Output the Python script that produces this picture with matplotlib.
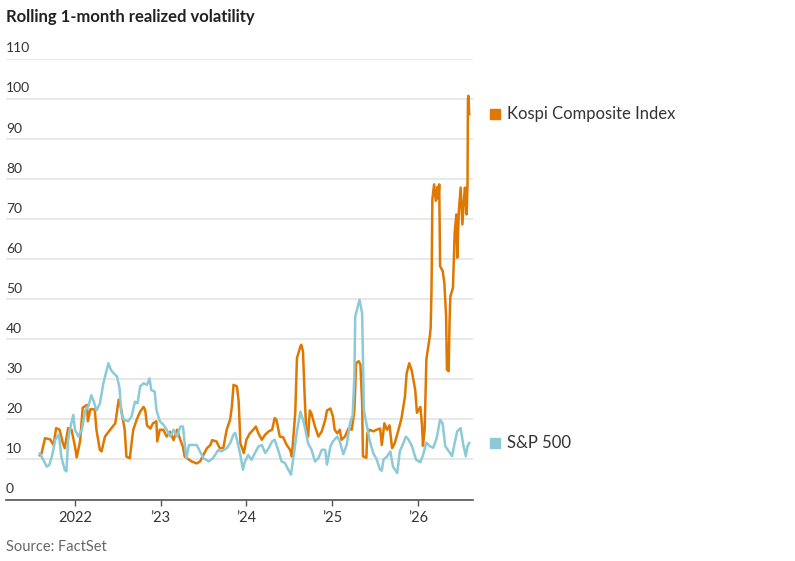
import matplotlib
matplotlib.use("Agg")
import matplotlib.pyplot as plt
import matplotlib.transforms as mtransforms

plt.rcParams['font.family'] = ['Lato', 'DejaVu Sans']

# decimal-year positions and values
kospi_t = [2021.59, 2021.61, 2021.65, 2021.71, 2021.75, 2021.78, 2021.82, 2021.86, 2021.88,
           2021.92, 2021.96, 2022.00, 2022.02, 2022.06, 2022.09, 2022.14, 2022.15, 2022.18,
           2022.23, 2022.25, 2022.29, 2022.31, 2022.35, 2022.41, 2022.47, 2022.51, 2022.53,
           2022.56, 2022.58, 2022.60, 2022.64, 2022.66, 2022.68, 2022.72, 2022.76, 2022.80,
           2022.82, 2022.84, 2022.88, 2022.91, 2022.95, 2022.96, 2022.99, 2023.03, 2023.07,
           2023.11, 2023.15, 2023.19, 2023.23, 2023.26, 2023.28, 2023.36, 2023.42, 2023.46,
           2023.50, 2023.54, 2023.58, 2023.60, 2023.65, 2023.69, 2023.73, 2023.77, 2023.81,
           2023.83, 2023.85, 2023.89, 2023.91, 2023.93, 2023.97, 2024.00, 2024.04, 2024.08,
           2024.11, 2024.14, 2024.18, 2024.22, 2024.26, 2024.30, 2024.33, 2024.35, 2024.39,
           2024.43, 2024.47, 2024.51, 2024.53, 2024.57, 2024.59, 2024.63, 2024.64, 2024.66,
           2024.68, 2024.70, 2024.72, 2024.74, 2024.76, 2024.80, 2024.84, 2024.88, 2024.92,
           2024.94, 2024.98, 2025.01, 2025.03, 2025.06, 2025.09, 2025.11, 2025.15, 2025.19,
           2025.23, 2025.26, 2025.28, 2025.31, 2025.33, 2025.35, 2025.36, 2025.40, 2025.41,
           2025.44, 2025.48, 2025.52, 2025.56, 2025.58, 2025.61, 2025.64, 2025.67, 2025.70,
           2025.73, 2025.77, 2025.81, 2025.85, 2025.87, 2025.90, 2025.93, 2025.97, 2025.99,
           2026.03, 2026.05, 2026.06, 2026.08, 2026.10, 2026.12, 2026.14, 2026.15, 2026.16,
           2026.17, 2026.19, 2026.21, 2026.23, 2026.24, 2026.25, 2026.26, 2026.29, 2026.31,
           2026.33, 2026.34, 2026.36, 2026.37, 2026.38, 2026.41, 2026.43, 2026.45, 2026.46,
           2026.48, 2026.50, 2026.52, 2026.54, 2026.55, 2026.57, 2026.58, 2026.585, 2026.59,
           2026.60]
kospi = [11.0, 11.5, 15.3, 15.0, 13.6, 17.8, 17.4, 14.0, 12.8,
         17.8, 17.4, 13.2, 10.5, 14.6, 22.9, 23.6, 19.5, 22.5,
         22.5, 17.4, 12.4, 12.0, 15.7, 17.4, 19.0, 24.9, 23.6,
         19.9, 17.4, 10.7, 10.3, 14.0, 17.4, 19.9, 21.9, 23.1,
         22.2, 18.5, 17.7, 19.0, 19.5, 14.5, 17.4, 17.4, 15.7,
         16.9, 14.8, 17.4, 14.8, 13.1, 10.7, 9.5, 9.0, 9.5,
         11.2, 12.8, 13.6, 14.8, 14.5, 12.8, 12.8, 17.4, 19.9,
         23.1, 28.6, 28.2, 24.4, 14.0, 11.6, 14.9, 16.5, 17.4,
         18.2, 16.5, 14.9, 16.2, 17.0, 17.4, 20.3, 19.9, 15.7,
         15.5, 13.6, 12.4, 10.7, 21.6, 35.3, 38.2, 38.6, 37.0,
         25.7, 16.5, 15.7, 22.2, 21.4, 18.2, 15.7, 17.0, 19.9,
         22.2, 22.7, 20.7, 17.4, 16.5, 17.4, 14.9, 15.7, 17.7,
         17.4, 22.2, 34.0, 34.5, 33.7, 24.4, 10.8, 10.4, 16.5,
         17.4, 17.0, 17.4, 17.7, 13.6, 19.0, 17.4, 18.5, 12.8,
         14.0, 17.0, 20.3, 25.7, 31.5, 34.0, 32.1, 27.3, 21.6,
         23.1, 18.2, 13.4, 17.4, 35.0, 37.8, 40.7, 42.8, 52.4,
         74.9, 78.6, 74.5, 78.0, 75.0, 78.6, 58.2, 57.0, 54.0,
         45.7, 32.4, 32.0, 44.0, 50.7, 52.8, 66.5, 71.1, 60.3,
         72.4, 77.8, 68.6, 75.3, 77.8, 71.1, 78.8, 99.9, 100.7,
         96.1]

sp500_t = [2021.59, 2021.63, 2021.67, 2021.70, 2021.73, 2021.77, 2021.81, 2021.82, 2021.84,
           2021.88, 2021.90, 2021.92, 2021.94, 2021.98, 2022.00, 2022.04, 2022.08, 2022.12,
           2022.16, 2022.19, 2022.22, 2022.25, 2022.29, 2022.33, 2022.36, 2022.39, 2022.42,
           2022.45, 2022.49, 2022.52, 2022.54, 2022.57, 2022.62, 2022.66, 2022.70, 2022.73,
           2022.76, 2022.80, 2022.84, 2022.87, 2022.89, 2022.93, 2022.95, 2022.99, 2023.03,
           2023.07, 2023.11, 2023.15, 2023.19, 2023.23, 2023.26, 2023.28, 2023.30, 2023.33,
           2023.38, 2023.42, 2023.46, 2023.50, 2023.56, 2023.61, 2023.67, 2023.71, 2023.77,
           2023.81, 2023.85, 2023.87, 2023.89, 2023.93, 2023.96, 2023.98, 2024.02, 2024.06,
           2024.10, 2024.14, 2024.18, 2024.22, 2024.26, 2024.30, 2024.33, 2024.37, 2024.41,
           2024.45, 2024.49, 2024.52, 2024.55, 2024.59, 2024.63, 2024.66, 2024.68, 2024.72,
           2024.76, 2024.80, 2024.84, 2024.88, 2024.92, 2024.94, 2024.98, 2025.01, 2025.06,
           2025.09, 2025.13, 2025.17, 2025.21, 2025.24, 2025.26, 2025.27, 2025.29, 2025.32,
           2025.35, 2025.36, 2025.37, 2025.40, 2025.44, 2025.48, 2025.52, 2025.56, 2025.58,
           2025.60, 2025.64, 2025.68, 2025.71, 2025.76, 2025.79, 2025.83, 2025.86, 2025.89,
           2025.93, 2025.98, 2026.03, 2026.06, 2026.10, 2026.14, 2026.18, 2026.22, 2026.26,
           2026.29, 2026.32, 2026.36, 2026.40, 2026.43, 2026.46, 2026.50, 2026.53, 2026.56,
           2026.58, 2026.60]
sp500 = [11.5, 9.9, 8.2, 8.6, 10.7, 14.9, 16.2, 14.9, 10.7,
         7.4, 7.0, 14.9, 17.4, 21.1, 17.4, 15.7, 17.4, 22.2,
         23.5, 26.0, 24.4, 22.2, 23.9, 28.9, 31.4, 34.0, 32.3,
         31.5, 30.7, 27.7, 21.6, 19.9, 19.5, 20.7, 24.4, 24.0,
         28.2, 29.0, 28.6, 30.2, 27.3, 26.9, 22.4, 19.5, 18.7,
         17.4, 15.7, 17.4, 15.7, 18.2, 18.2, 14.0, 10.3, 13.6,
         13.6, 13.6, 11.9, 10.3, 9.5, 10.3, 12.3, 12.0, 12.8,
         14.0, 16.2, 16.6, 14.9, 11.1, 7.4, 9.3, 11.1, 9.9,
         11.6, 13.2, 13.6, 11.6, 12.8, 14.5, 14.9, 12.4, 9.5,
         9.1, 7.4, 6.2, 10.7, 17.0, 21.9, 19.9, 18.2, 14.0,
         12.4, 9.5, 10.3, 12.4, 12.4, 8.7, 13.2, 14.5, 15.7,
         14.5, 11.3, 13.6, 19.2, 21.0, 30.7, 45.7, 47.3, 49.8,
         46.5, 35.7, 22.4, 19.0, 14.5, 11.6, 10.0, 7.4, 7.2,
         10.0, 10.7, 12.0, 8.2, 6.6, 12.0, 14.0, 15.7, 15.0,
         13.4, 9.9, 9.3, 11.0, 14.2, 13.3, 12.9, 15.3, 19.9,
         19.0, 13.3, 12.1, 10.8, 14.1, 17.0, 17.8, 13.7, 10.8,
         13.3, 14.1]

series_names = ['Kospi Composite Index', 'S&P 500']
year_ticks = [2022, 2023, 2024, 2025, 2026]
year_labels = ['2022', '\u201923', '\u201924', '\u201925', '\u201926']
y_ticks = list(range(0, 111, 10))

orange = '#df7800'
blue = '#8ccad7'
text_col = '#333333'

W, H = 795, 561
fig = plt.figure(figsize=(W / 100, H / 100), dpi=100)
ax = fig.add_axes([6 / W, 1 - 499.5 / H, 467 / W, 441 / H])

ax.plot(kospi_t, kospi, color=orange, lw=1.8, zorder=3)
ax.plot(sp500_t, sp500, color=blue, lw=1.8, zorder=4)

ax.set_xlim(2021.195, 2026.644)
ax.set_ylim(0, 110)

for s in ['top', 'right', 'left']:
    ax.spines[s].set_visible(False)
ax.spines['bottom'].set_color('#555555')
ax.spines['bottom'].set_linewidth(1.2)
ax.spines['bottom'].set_zorder(5)

ax.set_yticks(y_ticks)
ax.set_yticklabels([])
ax.tick_params(axis='y', length=0)
ax.yaxis.grid(True, color='#e4e4e4', lw=1.2)
ax.set_axisbelow(True)

ytrans = mtransforms.blended_transform_factory(ax.transAxes, ax.transData)
for v in y_ticks:
    ax.text(0, v, str(v), transform=ytrans + mtransforms.ScaledTranslation(0, 3 / 72, fig.dpi_scale_trans),
            ha='left', va='bottom', fontsize=10, color=text_col)

ax.set_xticks(year_ticks)
ax.set_xticklabels(year_labels)
ax.tick_params(axis='x', length=4, width=1, color='#555555', pad=4, labelsize=10.5, labelcolor=text_col)

# end-of-line labels
for name, vals, col in [(series_names[0], kospi, orange), (series_names[1], sp500, blue)]:
    ax.plot(1.047, vals[-1], marker='s', ms=7.5, color=col, transform=ytrans, clip_on=False)
    ax.text(1.073, vals[-1], name, transform=ytrans, ha='left', va='center',
            fontsize=12, color=text_col)

fig.text(6 / W, 1 - 17 / H, 'Rolling 1-month realized volatility', ha='left', va='center',
         fontsize=12, fontweight='bold', color='#222222')
fig.text(6 / W, 1 - 547 / H, 'Source: FactSet', ha='left', va='center', fontsize=10.5, color='#666666')

fig.savefig('out.png', dpi=100)
